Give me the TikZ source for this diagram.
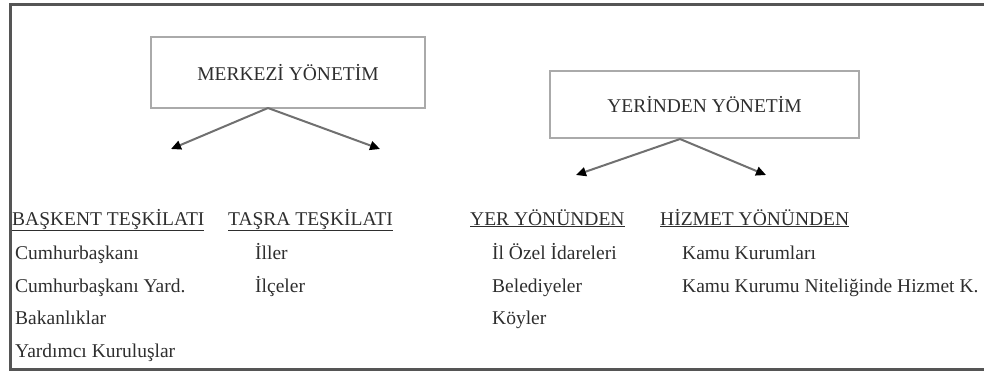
\documentclass[tikz,border=0pt]{standalone}
\usepackage{fontspec}
\setmainfont{Liberation Serif}
\usetikzlibrary{arrows.meta}
\definecolor{frame}{HTML}{555555}
\definecolor{boxline}{HTML}{AAAAAA}
\definecolor{txt}{HTML}{2E2E2E}
\definecolor{arr}{HTML}{707070}
\tikzset{
  x=1pt, y=-1pt,
  mainbox/.style={draw=boxline, line width=1.4pt, minimum width=#1, inner sep=0pt, font=\fontsize{19.5}{23}\selectfont, text=txt},
  head/.style={anchor=base west, inner sep=0pt, font=\fontsize{19.5}{23}\selectfont, text=txt},
  item/.style={anchor=base west, inner sep=0pt, font=\fontsize{19.5}{23}\selectfont, text=txt},
  conn/.style={draw=arr, line width=2pt, -{Triangle[length=10pt,width=9pt,color=black]}}
}
\begin{document}
\begin{tikzpicture}
\useasboundingbox (0,0) rectangle (984,373);
% frame
\draw[frame, line width=3pt] (984,4) -- (10,4) -- (10,369) -- (984,369);
% boxes
\node[mainbox=274pt, minimum height=71pt] (mer) at (288,72.5) {MERKEZİ YÖNETİM};
\node[mainbox=309pt, minimum height=67pt] (yer) at (704.5,104.5) {YERİNDEN YÖNETİM};
% arrow endpoints
\coordinate (mfork) at (268,108);
\coordinate (ml) at (171,149);
\coordinate (mr) at (380,149);
\coordinate (yfork) at (680,139);
\coordinate (yl) at (576,175);
\coordinate (yr) at (766,175);
\draw[conn] (mfork) -- (ml);
\draw[conn] (mfork) -- (mr);
\draw[conn] (yfork) -- (yl);
\draw[conn] (yfork) -- (yr);
% headings
\node[head] (h1) at (12,225) {\underline{BAŞKENT TEŞKİLATI}};
\node[head] (h2) at (228,225) {\underline{TAŞRA TEŞKİLATI}};
\node[head] (h3) at (470,225) {\underline{YER YÖNÜNDEN}};
\node[head] (h4) at (660,225) {\underline{HİZMET YÖNÜNDEN}};
% column 1
\node[item] (a1) at (15,259) {Cumhurbaşkanı};
\node[item] (a2) at (15,292) {Cumhurbaşkanı Yard.};
\node[item] (a3) at (15,324) {Bakanlıklar};
\node[item] (a4) at (15,357) {Yardımcı Kuruluşlar};
% column 2
\node[item] (b1) at (255,259) {İller};
\node[item] (b2) at (255,292) {İlçeler};
% column 3
\node[item] (c1) at (492,259) {İl Özel İdareleri};
\node[item] (c2) at (492,292) {Belediyeler};
\node[item] (c3) at (492,324) {Köyler};
% column 4
\node[item] (d1) at (682,259) {Kamu Kurumları};
\node[item] (d2) at (682,292) {Kamu Kurumu Niteliğinde Hizmet K.};
\end{tikzpicture}
\end{document}
